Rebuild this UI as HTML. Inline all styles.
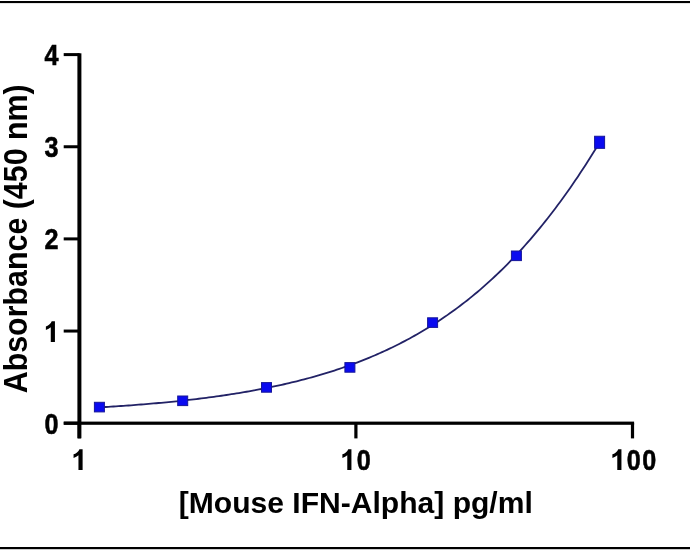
<!DOCTYPE html>
<html><head><meta charset="utf-8"><style>
html,body{margin:0;padding:0;background:#fff;}
body{width:690px;height:550px;overflow:hidden;}
svg{display:block;will-change:transform;}
text{font-family:"Liberation Sans",sans-serif;font-weight:bold;fill:#000;}
.tl{font-size:28.0px;stroke:#000;stroke-width:0.55px;}
.ti{font-size:30px;}
</style></head><body>
<svg width="690" height="550" viewBox="0 0 690 550">
<rect x="0" y="0" width="690" height="550" fill="#fff"/>
<rect x="0" y="1" width="690" height="2.1" fill="#000"/>
<rect x="0" y="547" width="690" height="2.2" fill="#000"/>
<rect x="0" y="549.2" width="690" height="0.8" fill="#ccc"/>
<rect x="77.4" y="53.3" width="4" height="385" fill="#000"/>
<rect x="63.8" y="421.6" width="570.3" height="3.2" fill="#000"/>
<rect x="63.7" y="421.70" width="16" height="3" fill="#000"/>
<rect x="63.7" y="329.55" width="16" height="3" fill="#000"/>
<rect x="63.7" y="237.40" width="16" height="3" fill="#000"/>
<rect x="63.7" y="145.25" width="16" height="3" fill="#000"/>
<rect x="63.7" y="53.10" width="16" height="3" fill="#000"/>
<rect x="77.70" y="423" width="3.2" height="15.4" fill="#000"/>
<rect x="354.30" y="423" width="3.2" height="15.4" fill="#000"/>
<rect x="630.90" y="423" width="3.2" height="15.4" fill="#000"/>

<path d="M98.35,407.45 L100.86,407.30 L103.37,407.15 L105.88,407.00 L108.39,406.84 L110.91,406.68 L113.42,406.52 L115.93,406.36 L118.44,406.19 L120.95,406.01 L123.46,405.84 L125.97,405.66 L128.48,405.48 L130.99,405.29 L133.50,405.11 L136.01,404.91 L138.52,404.72 L141.03,404.52 L143.54,404.31 L146.05,404.11 L148.56,403.90 L151.07,403.68 L153.58,403.46 L156.09,403.24 L158.60,403.01 L161.12,402.78 L163.63,402.55 L166.14,402.31 L168.65,402.06 L171.16,401.81 L173.67,401.56 L176.18,401.30 L178.69,401.04 L181.20,400.77 L183.71,400.50 L186.22,400.22 L188.73,399.94 L191.24,399.65 L193.75,399.35 L196.26,399.05 L198.77,398.75 L201.28,398.44 L203.79,398.12 L206.30,397.80 L208.81,397.47 L211.33,397.14 L213.84,396.80 L216.35,396.45 L218.86,396.10 L221.37,395.74 L223.88,395.37 L226.39,395.00 L228.90,394.62 L231.41,394.23 L233.92,393.84 L236.43,393.44 L238.94,393.03 L241.45,392.61 L243.96,392.19 L246.47,391.76 L248.98,391.32 L251.49,390.87 L254.00,390.42 L256.51,389.95 L259.02,389.48 L261.54,389.00 L264.05,388.51 L266.56,388.01 L269.07,387.50 L271.58,386.98 L274.09,386.46 L276.60,385.92 L279.11,385.38 L281.62,384.82 L284.13,384.25 L286.64,383.68 L289.15,383.09 L291.66,382.49 L294.17,381.89 L296.68,381.27 L299.19,380.64 L301.70,379.99 L304.21,379.34 L306.72,378.68 L309.23,378.00 L311.75,377.31 L314.26,376.61 L316.77,375.89 L319.28,375.17 L321.79,374.43 L324.30,373.67 L326.81,372.91 L329.32,372.13 L331.83,371.33 L334.34,370.53 L336.85,369.70 L339.36,368.87 L341.87,368.01 L344.38,367.15 L346.89,366.26 L349.40,365.36 L351.91,364.45 L354.42,363.52 L356.93,362.57 L359.44,361.61 L361.96,360.63 L364.47,359.63 L366.98,358.62 L369.49,357.59 L372.00,356.54 L374.51,355.47 L377.02,354.38 L379.53,353.27 L382.04,352.15 L384.55,351.00 L387.06,349.84 L389.57,348.65 L392.08,347.45 L394.59,346.22 L397.10,344.98 L399.61,343.71 L402.12,342.42 L404.63,341.11 L407.14,339.77 L409.65,338.42 L412.16,337.04 L414.68,335.64 L417.19,334.21 L419.70,332.76 L422.21,331.29 L424.72,329.79 L427.23,328.26 L429.74,326.71 L432.25,325.14 L434.76,323.53 L437.27,321.91 L439.78,320.25 L442.29,318.57 L444.80,316.86 L447.31,315.12 L449.82,313.36 L452.33,311.56 L454.84,309.74 L457.35,307.88 L459.86,306.00 L462.37,304.09 L464.89,302.14 L467.40,300.17 L469.91,298.16 L472.42,296.12 L474.93,294.05 L477.44,291.95 L479.95,289.81 L482.46,287.64 L484.97,285.44 L487.48,283.20 L489.99,280.93 L492.50,278.62 L495.01,276.28 L497.52,273.90 L500.03,271.49 L502.54,269.04 L505.05,266.55 L507.56,264.02 L510.07,261.46 L512.58,258.86 L515.10,256.22 L517.61,253.54 L520.12,250.82 L522.63,248.06 L525.14,245.27 L527.65,242.43 L530.16,239.55 L532.67,236.63 L535.18,233.67 L537.69,230.66 L540.20,227.62 L542.71,224.53 L545.22,221.40 L547.73,218.22 L550.24,215.00 L552.75,211.74 L555.26,208.43 L557.77,205.08 L560.28,201.69 L562.79,198.25 L565.31,194.76 L567.82,191.23 L570.33,187.65 L572.84,184.02 L575.35,180.35 L577.86,176.63 L580.37,172.87 L582.88,169.06 L585.39,165.20 L587.90,161.29 L590.41,157.34 L592.92,153.33 L595.43,149.28 L597.94,145.18" fill="none" stroke="#222266" stroke-width="1.8"/>
<rect x="94.4" y="402.30" width="10" height="9.6" fill="#0a0af0" stroke="#16169a" stroke-width="1"/>
<rect x="177.7" y="396.00" width="10" height="9.6" fill="#0a0af0" stroke="#16169a" stroke-width="1"/>
<rect x="261.5" y="382.60" width="10" height="9.6" fill="#0a0af0" stroke="#16169a" stroke-width="1"/>
<rect x="344.9" y="362.60" width="10" height="9.6" fill="#0a0af0" stroke="#16169a" stroke-width="1"/>
<rect x="427.6" y="317.80" width="10" height="9.6" fill="#0a0af0" stroke="#16169a" stroke-width="1"/>
<rect x="511.4" y="251.00" width="10" height="9.6" fill="#0a0af0" stroke="#16169a" stroke-width="1"/>
<rect x="594.6" y="136.25" width="10" height="12.1" fill="#0a0af0" stroke="#16169a" stroke-width="1"/>

<text transform="translate(51.61,433.60) scale(0.900,1.041)" text-anchor="middle" class="tl">0</text>
<path transform="translate(43.83,342.05) scale(0.01367,-0.01423)" d="M812 0H508V1045Q371 920 150 846V1101Q272 1137 401 1237Q530 1338 578 1466H812Z"/>
<text transform="translate(51.61,249.30) scale(0.900,1.041)" text-anchor="middle" class="tl">2</text>
<text transform="translate(51.61,157.15) scale(0.900,1.041)" text-anchor="middle" class="tl">3</text>
<text transform="translate(51.61,65.00) scale(0.900,1.041)" text-anchor="middle" class="tl">4</text>
<path transform="translate(71.51,470.00) scale(0.01367,-0.01423)" d="M812 0H508V1045Q371 920 150 846V1101Q272 1137 401 1237Q530 1338 578 1466H812Z"/>
<path transform="translate(340.33,470.00) scale(0.01367,-0.01423)" d="M812 0H508V1045Q371 920 150 846V1101Q272 1137 401 1237Q530 1338 578 1466H812Z"/>
<text transform="translate(363.69,469.80) scale(0.900,1.041)" text-anchor="middle" class="tl">0</text>
<path transform="translate(610.34,470.00) scale(0.01367,-0.01423)" d="M812 0H508V1045Q371 920 150 846V1101Q272 1137 401 1237Q530 1338 578 1466H812Z"/>
<text transform="translate(633.70,469.80) scale(0.900,1.041)" text-anchor="middle" class="tl">0</text>
<text transform="translate(649.27,469.80) scale(0.900,1.041)" text-anchor="middle" class="tl">0</text>

<text transform="translate(178.8,513.2) scale(1,1.0)" class="ti" textLength="354" lengthAdjust="spacingAndGlyphs">[Mouse IFN-Alpha] pg/ml</text>
<text transform="translate(27.0,392.5) rotate(-90) scale(1,1.12)" class="ti" x="-0.8" y="0" textLength="309" lengthAdjust="spacingAndGlyphs">Absorbance (450 nm)</text>
</svg>
</body></html>
